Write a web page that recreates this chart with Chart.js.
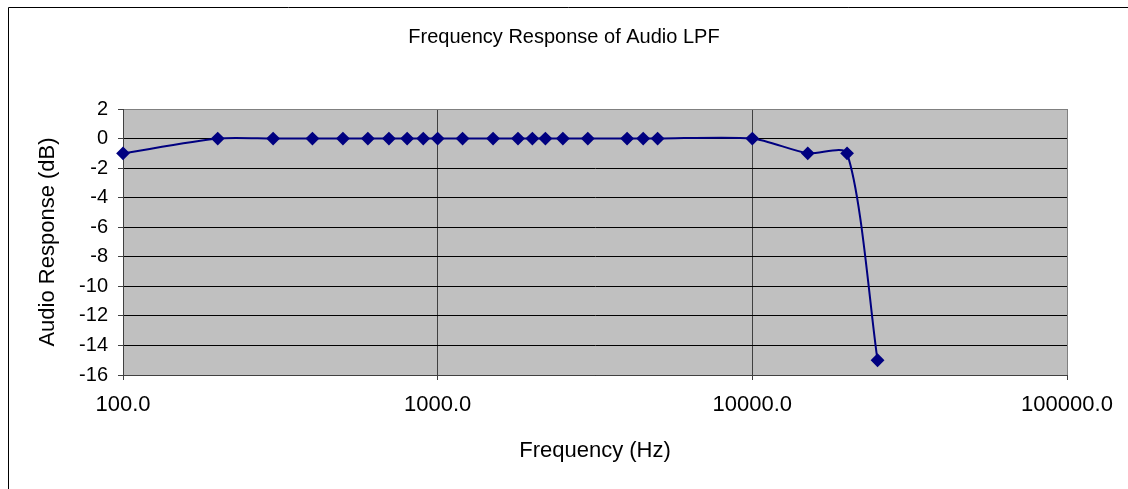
<!DOCTYPE html>
<html>
<head>
<meta charset="utf-8">
<script src="https://cdn.jsdelivr.net/npm/chart.js@4.4.0/dist/chart.umd.min.js"></script>
<style>
body{margin:0;background:#fff;}
</style>
</head>
<body>
<canvas id="lpf-chart" width="1128" height="489"></canvas>
<script>
// measured points, frequency in Hz and response in dB
var freqs = [100, 200, 300, 400, 500, 600, 700, 800, 900, 1000, 1200, 1500, 1800, 2000, 2200, 2500, 3000, 4000, 4500, 5000, 10000, 15000, 20000, 25000];
var response = [-1, 0, 0, 0, 0, 0, 0, 0, 0, 0, 0, 0, 0, 0, 0, 0, 0, 0, 0, 0, 0, -1, -1, -15];
var xTicks = [100, 1000, 10000, 100000];
var yMin = -16;
var yMax = 2;
var yStep = 2;

Chart.defaults.font.family = "'Liberation Sans', Arial, sans-serif";
Chart.defaults.color = "#000";

// white page, outer chart border (left/top) and grey plot area
var frame = {
	id: "frame",
	beforeDraw: function(chart){
		var c = chart.ctx, a = chart.chartArea;
		c.save();
		c.fillStyle = "#fff";
		c.fillRect(0, 0, chart.width, chart.height);
		c.strokeStyle = "#000";
		c.lineWidth = 1;
		c.beginPath();
		c.moveTo(8.5, chart.height);
		c.lineTo(8.5, 7.5);
		c.lineTo(chart.width, 7.5);
		c.stroke();
		c.fillStyle = "#c0c0c0";
		c.fillRect(a.left, a.top, a.right - a.left, a.bottom - a.top);
		c.strokeStyle = "#808080";
		c.strokeRect(a.left + 0.5, a.top + 0.5, a.right - a.left, a.bottom - a.top);
		c.restore();
	}
};

var points = freqs.map(function(f, i){
	return {x: f, y: response[i]};
});

var ctx = document.getElementById("lpf-chart");

var chart = new Chart(ctx, {
	type: "line",
	data: {
		datasets: [
			{
				label: "Audio Response",
				data: points,
				borderColor: "#000080",
				backgroundColor: "#000080",
				borderWidth: 2,
				tension: 0.25,
				pointStyle: "rectRot",
				pointRadius: 5.5,
				pointBackgroundColor: "#000080",
				pointBorderColor: "#000080",
				clip: false
			}
		]
	},
	options: {
		responsive: false,
		animation: false,
		plugins: {
			legend: {display: false},
			tooltip: {enabled: false},
			title: {
				display: true,
				text: "Frequency Response of Audio LPF",
				font: {size: 20, weight: "normal"},
				color: "#000",
				padding: {top: 25, bottom: 60}
			}
		},
		scales: {
			x: {
				type: "logarithmic",
				min: xTicks[0],
				max: xTicks[xTicks.length - 1],
				afterBuildTicks: function(scale){
					scale.ticks = xTicks.map(function(v){ return {value: v}; });
				},
				afterFit: function(scale){
					scale.height = 114;
				},
				ticks: {
					autoSkip: false,
					maxRotation: 0,
					padding: 12,
					font: {size: 22},
					callback: function(value){
						return Number(value).toFixed(1);
					}
				},
				grid: {
					color: function(c){
						if (c.tick && c.tick.value == xTicks[xTicks.length - 1]) return "#808080";
						return "#404040";
					},
					tickColor: "#404040",
					tickLength: 5
				},
				border: {color: "#404040"},
				title: {
					display: true,
					text: "Frequency (Hz)",
					font: {size: 22},
					padding: {top: 0, bottom: 25}
				}
			},
			y: {
				min: yMin,
				max: yMax,
				afterFit: function(scale){
					scale.width = 123;
				},
				ticks: {
					stepSize: yStep,
					padding: 10,
					font: {size: 20}
				},
				grid: {
					color: function(c){
						if (c.tick && c.tick.value == yMax) return "#808080";
						return "#000";
					},
					tickColor: "#404040",
					tickLength: 5
				},
				border: {color: "#404040"},
				title: {
					display: true,
					text: "Audio Response (dB)",
					font: {size: 22},
					padding: {top: 35, bottom: 0}
				}
			},
			// empty right-hand strip so the plot stops short of the edge
			spacer: {
				position: "right",
				display: true,
				min: yMin,
				max: yMax,
				afterFit: function(scale){
					scale.width = 61;
				},
				ticks: {display: false},
				grid: {display: false, drawTicks: false},
				border: {display: false}
			}
		}
	},
	plugins: [frame]
});
</script>
</body>
</html>
